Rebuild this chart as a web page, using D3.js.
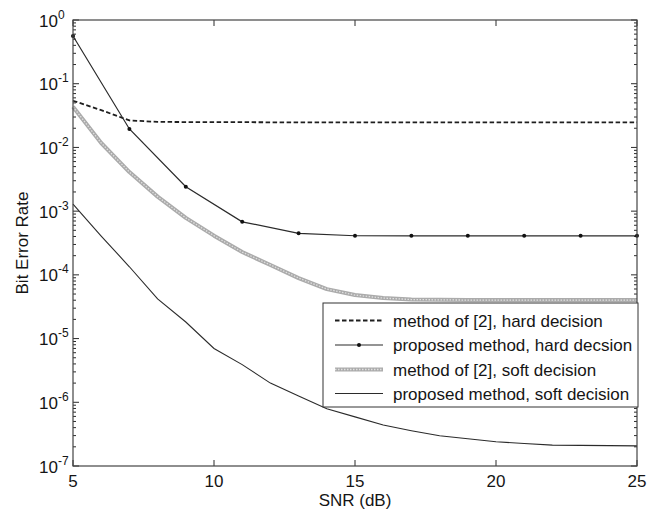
<!DOCTYPE html>
<html>
<head>
<meta charset="utf-8">
<script src="https://cdn.jsdelivr.net/npm/d3@7"></script>
<style>
  html, body { margin: 0; padding: 0; background: #fff; }
  svg { display: block; font-family: "Liberation Sans", Arial, sans-serif; }
</style>
</head>
<body>
<svg id="chart" width="665" height="518"></svg>
<script>
// ---- data ----
const snrAll = [5,6,7,8,9,10,11,12,13,14,15,16,17,18,19,20,21,22,23,24,25];
const snrOdd = [5,7,9,11,13,15,17,19,21,23,25];

const hardRef  = [0.054, 0.0385, 0.0265, 0.0252, 0.0250, 0.0249, 0.0249, 0.0248, 0.0248, 0.0248, 0.0248,
                  0.0248, 0.0248, 0.0248, 0.0248, 0.0248, 0.0248, 0.0248, 0.0248, 0.0248, 0.0248];
const hardProp = [0.561, 0.0195, 0.00242, 6.8e-4, 4.48e-4, 4.11e-4, 4.1e-4, 4.1e-4, 4.1e-4, 4.1e-4, 4.1e-4];
const softRef  = [0.0435, 0.01173, 0.00411, 0.00169, 7.85e-4, 4.12e-4, 2.28e-4, 1.43e-4, 8.9e-5, 5.98e-5,
                  4.82e-5, 4.32e-5, 4.1e-5, 4.05e-5, 4.02e-5, 4.02e-5, 4.02e-5, 4.02e-5, 4.02e-5, 4.02e-5, 4.02e-5];
const softProp = [1.29e-3, 4.07e-4, 1.34e-4, 4.19e-5, 1.82e-5, 7.0e-6, 3.9e-6, 2.0e-6, 1.26e-6, 7.9e-7,
                  5.9e-7, 4.4e-7, 3.58e-7, 2.98e-7, 2.68e-7, 2.4e-7, 2.25e-7, 2.13e-7, 2.11e-7, 2.09e-7, 2.07e-7];

const xTicks = [5, 10, 15, 20, 25];
const yExps  = [0, -1, -2, -3, -4, -5, -6, -7];
const legendLabels = ["method of [2], hard decision", "proposed method, hard decsion",
                      "method of [2], soft decision", "proposed method, soft decision"];
const xLabel = "SNR (dB)";
const yLabel = "Bit Error Rate";

// ---- layout ----
const L = 73, R = 637, T = 20, B = 466;
const svg = d3.select("#chart");
const x = d3.scaleLinear().domain([5, 25]).range([L, R]);
const y = d3.scaleLog().domain([1e-7, 1]).range([B, T]);
const ink = "#2b2b2b";
const fs = 17;

svg.append("rect").attr("x", L).attr("y", T).attr("width", R - L).attr("height", B - T)
  .attr("fill", "#fff").attr("stroke", "none");

// ticks (inside, mirrored)
const tg = svg.append("g").attr("stroke", ink).attr("stroke-width", 1);
xTicks.forEach(v => {
  const px = x(v);
  tg.append("line").attr("x1", px).attr("x2", px).attr("y1", B).attr("y2", B - 6);
  tg.append("line").attr("x1", px).attr("x2", px).attr("y1", T).attr("y2", T + 6);
});
for (let e = -7; e <= 0; e++) {
  const py = y(Math.pow(10, e));
  tg.append("line").attr("x1", L).attr("x2", L + 6).attr("y1", py).attr("y2", py);
  tg.append("line").attr("x1", R).attr("x2", R - 6).attr("y1", py).attr("y2", py);
  if (e < 0) {
    for (let m = 2; m <= 9; m++) {
      const pm = y(m * Math.pow(10, e));
      tg.append("line").attr("x1", L).attr("x2", L + 3).attr("y1", pm).attr("y2", pm);
      tg.append("line").attr("x1", R).attr("x2", R - 3).attr("y1", pm).attr("y2", pm);
    }
  }
}

// ---- series ----
const lineAll = d3.line().x((d, i) => x(snrAll[i])).y(d => y(d));
const lineOdd = d3.line().x((d, i) => x(snrOdd[i])).y(d => y(d));

// method of [2], soft decision: thick grey textured line
svg.append("path").datum(softRef).attr("d", lineAll)
  .attr("fill", "none").attr("stroke", "#ababab").attr("stroke-width", 4).attr("stroke-linejoin", "round");
svg.append("path").datum(softRef).attr("d", lineAll)
  .attr("fill", "none").attr("stroke", "#e0e0e0").attr("stroke-width", 1.3)
  .attr("stroke-dasharray", "1.5,1.5");

// proposed soft
svg.append("path").datum(softProp).attr("d", lineAll)
  .attr("fill", "none").attr("stroke", ink).attr("stroke-width", 1.1);

// method of [2], hard
svg.append("path").datum(hardRef).attr("d", lineAll)
  .attr("fill", "none").attr("stroke", "#1e1e1e").attr("stroke-width", 1.8)
  .attr("stroke-dasharray", "4.5,2.5");

// proposed hard
svg.append("path").datum(hardProp).attr("d", lineOdd)
  .attr("fill", "none").attr("stroke", ink).attr("stroke-width", 1.2);
svg.append("g").selectAll("circle").data(hardProp).join("circle")
  .attr("cx", (d, i) => x(snrOdd[i])).attr("cy", d => y(d)).attr("r", 2).attr("fill", "#111");

// frame
svg.append("rect").attr("x", L).attr("y", T).attr("width", R - L).attr("height", B - T)
  .attr("fill", "none").attr("stroke", "#444").attr("stroke-width", 1.2);

// ---- tick labels ----
const lab = svg.append("g").attr("fill", "#151515");
xTicks.forEach(v => {
  lab.append("text").attr("x", x(v)).attr("y", B + 21).attr("text-anchor", "middle")
    .attr("font-size", fs).text(v);
});
yExps.forEach(e => {
  const py = y(Math.pow(10, e));
  const t = lab.append("text").attr("x", 39).attr("y", py + 6.5).attr("font-size", fs);
  t.append("tspan").text("10");
  t.append("tspan").attr("dy", -8).attr("font-size", 12).text(String(e));
});

// axis labels
lab.append("text").attr("x", (L + R) / 2).attr("y", 505.5).attr("text-anchor", "middle")
  .attr("font-size", fs).text(xLabel);
lab.append("text").attr("transform", `translate(28,${(T + B) / 2}) rotate(-90)`)
  .attr("text-anchor", "middle").attr("font-size", fs).text(yLabel);

// ---- legend ----
const lg = svg.append("g");
const lx = 323, ly = 303, lw = 315, lh = 104;
lg.append("rect").attr("x", lx).attr("y", ly).attr("width", lw).attr("height", lh)
  .attr("fill", "#fff").attr("stroke", "#333").attr("stroke-width", 1);
const rowY = [320.5, 345, 369.5, 393.5];
const sx1 = 335, sx2 = 383;
lg.append("line").attr("x1", sx1).attr("x2", sx2).attr("y1", rowY[0]).attr("y2", rowY[0])
  .attr("stroke", "#1e1e1e").attr("stroke-width", 1.8).attr("stroke-dasharray", "4.5,2.5");
lg.append("line").attr("x1", sx1).attr("x2", sx2).attr("y1", rowY[1]).attr("y2", rowY[1])
  .attr("stroke", ink).attr("stroke-width", 1.2);
lg.append("circle").attr("cx", (sx1 + sx2) / 2).attr("cy", rowY[1]).attr("r", 2).attr("fill", "#111");
lg.append("line").attr("x1", sx1).attr("x2", sx2).attr("y1", rowY[2]).attr("y2", rowY[2])
  .attr("stroke", "#ababab").attr("stroke-width", 4);
lg.append("line").attr("x1", sx1).attr("x2", sx2).attr("y1", rowY[2]).attr("y2", rowY[2])
  .attr("stroke", "#e0e0e0").attr("stroke-width", 1.3).attr("stroke-dasharray", "1.5,1.5");
lg.append("line").attr("x1", sx1).attr("x2", sx2).attr("y1", rowY[3]).attr("y2", rowY[3])
  .attr("stroke", ink).attr("stroke-width", 1.1);
legendLabels.forEach((s, i) => {
  lg.append("text").attr("x", 393).attr("y", rowY[i] + 6).attr("font-size", fs)
    .attr("fill", "#151515").text(s);
});
</script>
</body>
</html>
